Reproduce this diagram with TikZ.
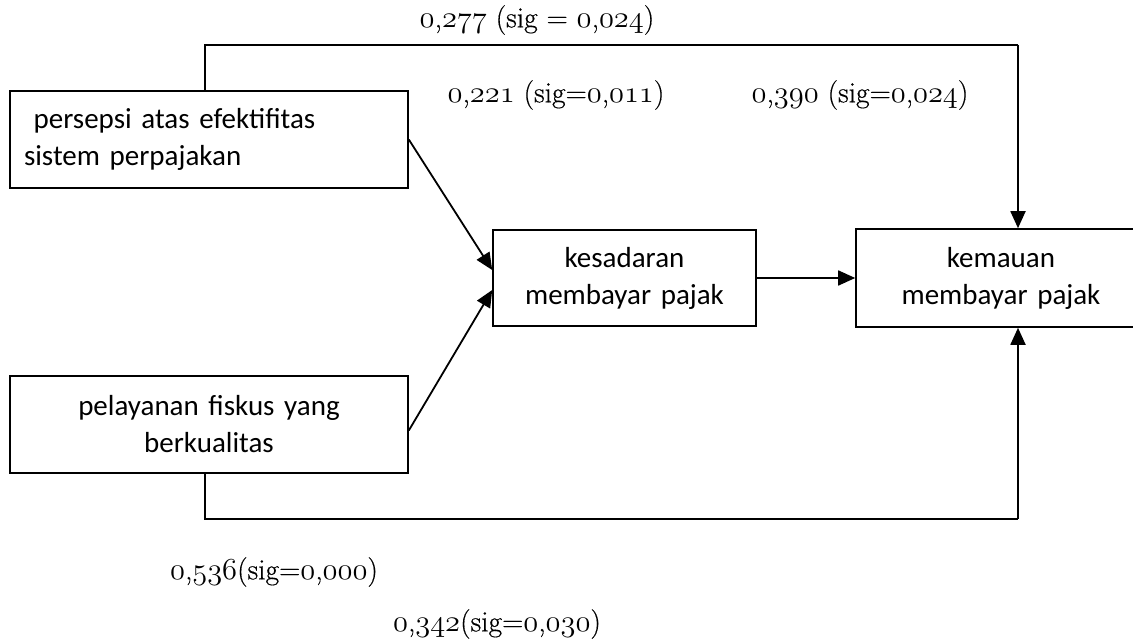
\documentclass[tikz,border=0pt]{standalone}
\usepackage{fix-cm}
\usepackage{fontspec}
\usetikzlibrary{arrows.meta}
\newfontfamily\boxfont{Carlito}
\newfontfamily\labfont[FakeBold=0.4]{Latin Modern Roman}
\newcommand\osn[1]{{\fontsize{30.5}{34}\usefont{OML}{cmm}{m}{it}#1}}
\tikzset{
  boxnode/.style={draw, line width=1.6pt, rectangle, inner sep=0pt,
    font=\boxfont\fontsize{29}{37}\selectfont},
  lab/.style={font=\labfont\fontsize{29.5}{34}\selectfont, inner sep=0pt},
  conn/.style={line width=1.8pt, -{Triangle[length=17pt,width=15pt]}},
  plain/.style={line width=1.8pt}
}
\begin{document}
\begin{tikzpicture}[x=1pt,y=-1pt]
\useasboundingbox (0,0) rectangle (1133,644);
\node[boxnode, minimum width=398pt, minimum height=97pt, text width=370pt, align=left] (b1) at (209,139.5) {\ persepsi atas efektifitas\\sistem perpajakan};
\node[boxnode, minimum width=398pt, minimum height=97pt, text width=390pt, align=center] (b2) at (209,424.5) {pelayanan fiskus yang\\berkualitas};
\node[boxnode, minimum width=263pt, minimum height=96pt, text width=255pt, align=center] (b3) at (624.5,278) {kesadaran\\membayar pajak};
\node[boxnode, minimum width=290pt, minimum height=98pt, text width=280pt, align=center] (b4) at (1001,278) {kemauan\\membayar pajak};
\coordinate (t) at (0,45);
\coordinate (bt) at (0,519);
\coordinate (b4t) at ([xshift=17pt]b4.north);
\coordinate (b4b) at ([xshift=17pt]b4.south);
\coordinate (b1s) at ([xshift=-4pt]b1.north);
\coordinate (b2s) at ([xshift=-4pt]b2.south);
\draw[plain] (b1s) -- (b1s |- t) -- (b4t |- t);
\draw[conn] (b4t |- t) -- (b4t);
\draw[plain] (b2s) -- (b2s |- bt) -- (b4b |- bt);
\draw[conn] (b4b |- bt) -- (b4b);
\draw[conn] (b1.east) -- ([yshift=8pt]b3.west);
\draw[conn] ([yshift=-6pt]b2.east) -- ([yshift=-12pt]b3.west);
\draw[conn] (b3.east) -- (b4.west);
\node[lab] (l1) at (537,20) {\osn{0},\osn{277} (sig = \osn{0},\osn{024})};
\node[lab] (l2) at (556,95) {\osn{0},\osn{221} (sig=\osn{0},\osn{011})};
\node[lab] (l3) at (860,95) {\osn{0},\osn{390} (sig=\osn{0},\osn{024})};
\node[lab] (l4) at (274,572) {\osn{0},\osn{536}(sig=\osn{0},\osn{000})};
\node[lab] (l5) at (497,624) {\osn{0},\osn{342}(sig=\osn{0},\osn{030})};
\end{tikzpicture}
\end{document}
